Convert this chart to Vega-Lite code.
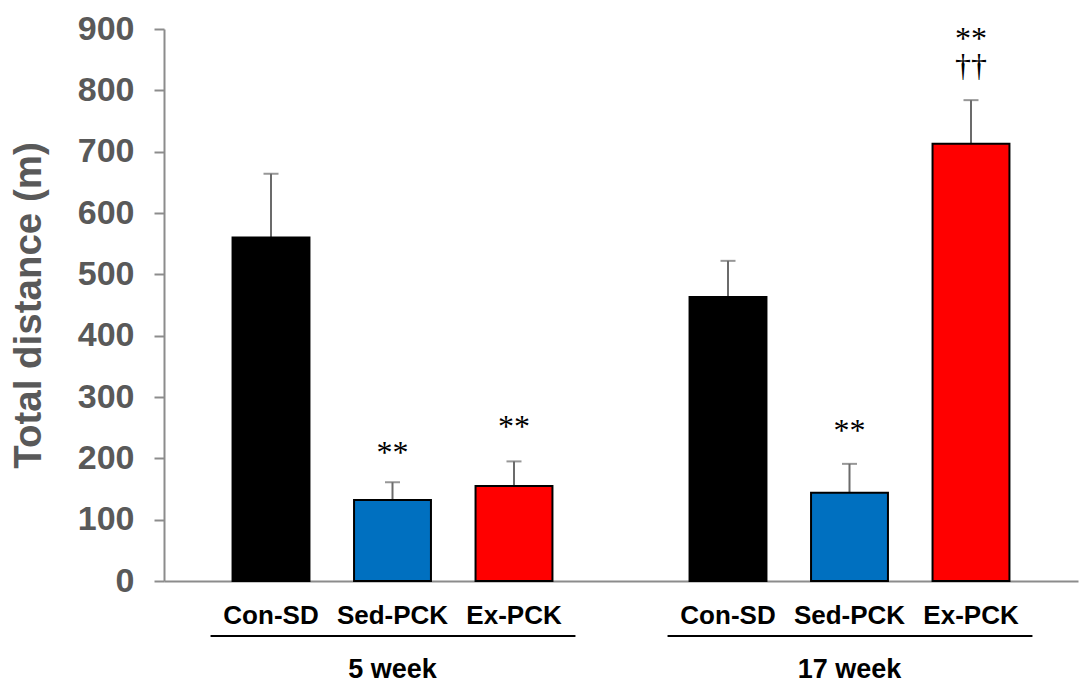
{
  "$schema": "https://vega.github.io/schema/vega-lite/v6.json",
  "width": 914,
  "height": 552,
  "autosize": "none",
  "padding": {"left": 164, "top": 29, "right": 3, "bottom": 117},
  "background": "white",
  "config": {"view": {"stroke": null}},
  "datasets": {
    "bars": [
      {"week": "5 week", "group": "Con-SD", "value": 560, "upper": 664},
      {"week": "5 week", "group": "Sed-PCK", "value": 132, "upper": 161},
      {"week": "5 week", "group": "Ex-PCK", "value": 155, "upper": 195},
      {"week": "17 week", "group": "Con-SD", "value": 463, "upper": 522},
      {"week": "17 week", "group": "Sed-PCK", "value": 144, "upper": 191},
      {"week": "17 week", "group": "Ex-PCK", "value": 713, "upper": 784}
    ],
    "notes": [
      {"week": "5 week", "group": "Sed-PCK", "label": "**", "pos": 193},
      {"week": "5 week", "group": "Ex-PCK", "label": "**", "pos": 235},
      {"week": "17 week", "group": "Sed-PCK", "label": "**", "pos": 229},
      {"week": "17 week", "group": "Ex-PCK", "label": "**|††", "pos": 867}
    ],
    "weeks": [
      {"week": "5 week"},
      {"week": "17 week"}
    ]
  },
  "layer": [
    {
      "data": {"name": "bars"},
      "mark": {"type": "rule", "strokeWidth": 2, "color": "#6b6b6b"},
      "encoding": {
        "x": {"field": "week", "type": "nominal", "sort": ["5 week", "17 week"],
              "scale": {"paddingInner": 0.3, "paddingOuter": 0.15},
              "axis": {"title": null, "labels": false, "ticks": false, "domain": true, "domainColor": "#8c8c8c", "domainWidth": 2, "grid": false}},
        "xOffset": {"field": "group", "type": "nominal", "sort": ["Con-SD", "Sed-PCK", "Ex-PCK"],
                    "scale": {"paddingInner": 0.367, "paddingOuter": 0}},
        "y": {"field": "value", "type": "quantitative",
              "scale": {"domain": [0, 900], "nice": false, "zero": true},
              "axis": {"values": [0, 100, 200, 300, 400, 500, 600, 700, 800, 900], "grid": false,
                       "tickSize": 10, "tickWidth": 2, "tickColor": "#8c8c8c",
                       "domainColor": "#8c8c8c", "domainWidth": 2,
                       "labelFont": "Liberation Sans", "labelFontWeight": "bold", "labelFontSize": 34,
                       "labelColor": "#595959", "labelPadding": 20,
                       "title": "Total distance (m)", "titleFont": "Liberation Sans", "titleFontWeight": "bold",
                       "titleFontSize": 38.5, "titleColor": "#595959", "titlePadding": 29}},
        "y2": {"field": "upper"}
      }
    },
    {
      "data": {"name": "bars"},
      "mark": {"type": "tick", "thickness": 2, "size": 15, "color": "#6b6b6b", "orient": "horizontal"},
      "encoding": {
        "x": {"field": "week", "type": "nominal", "sort": ["5 week", "17 week"]},
        "xOffset": {"field": "group", "type": "nominal", "sort": ["Con-SD", "Sed-PCK", "Ex-PCK"]},
        "y": {"field": "upper", "type": "quantitative"}
      }
    },
    {
      "data": {"name": "bars"},
      "mark": {"type": "bar", "stroke": "black", "strokeWidth": 2},
      "encoding": {
        "x": {"field": "week", "type": "nominal", "sort": ["5 week", "17 week"]},
        "xOffset": {"field": "group", "type": "nominal", "sort": ["Con-SD", "Sed-PCK", "Ex-PCK"]},
        "y": {"field": "value", "type": "quantitative"},
        "fill": {"field": "group", "type": "nominal",
                 "scale": {"domain": ["Con-SD", "Sed-PCK", "Ex-PCK"], "range": ["#000000", "#0070C0", "#FF0000"]},
                 "legend": null}
      }
    },
    {
      "data": {"name": "notes"},
      "mark": {"type": "text", "font": "Liberation Serif", "fontSize": 32, "baseline": "alphabetic", "align": "center", "color": "black", "lineBreak": "|", "lineHeight": 27},
      "encoding": {
        "x": {"field": "week", "type": "nominal", "sort": ["5 week", "17 week"]},
        "xOffset": {"field": "group", "type": "nominal", "sort": ["Con-SD", "Sed-PCK", "Ex-PCK"]},
        "y": {"field": "pos", "type": "quantitative"},
        "text": {"field": "label"}
      }
    },
    {
      "data": {"name": "bars"},
      "mark": {"type": "text", "font": "Liberation Sans", "fontWeight": "bold", "fontSize": 26, "baseline": "middle", "align": "center", "color": "black", "dy": 35},
      "encoding": {
        "x": {"field": "week", "type": "nominal", "sort": ["5 week", "17 week"]},
        "xOffset": {"field": "group", "type": "nominal", "sort": ["Con-SD", "Sed-PCK", "Ex-PCK"]},
        "y": {"datum": 0},
        "text": {"field": "group"}
      }
    },
    {
      "data": {"name": "weeks"},
      "mark": {"type": "rule", "strokeWidth": 2, "color": "black", "xOffset": -22, "x2Offset": 23, "yOffset": 55},
      "encoding": {
        "x": {"field": "week", "type": "nominal", "sort": ["5 week", "17 week"], "bandPosition": 0},
        "x2": {"field": "week", "bandPosition": 1},
        "y": {"datum": 0}
      }
    },
    {
      "data": {"name": "weeks"},
      "mark": {"type": "text", "font": "Liberation Sans", "fontWeight": "bold", "fontSize": 27, "baseline": "middle", "align": "center", "color": "black", "dy": 89},
      "encoding": {
        "x": {"field": "week", "type": "nominal", "sort": ["5 week", "17 week"]},
        "y": {"datum": 0},
        "text": {"field": "week"}
      }
    }
  ]
}
